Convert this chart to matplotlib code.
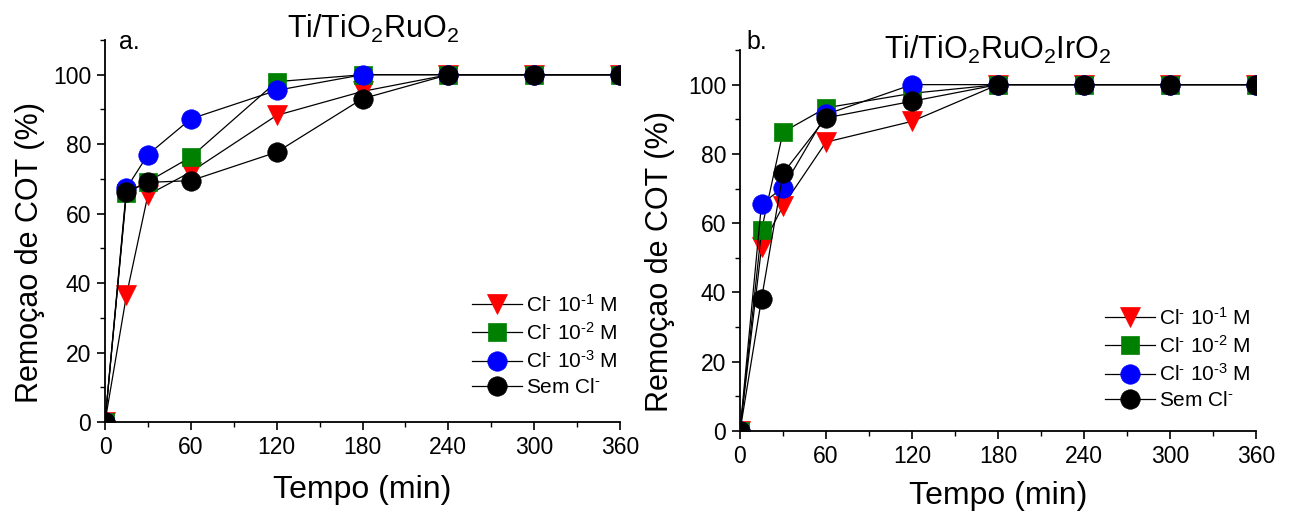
import matplotlib
matplotlib.use("Agg")
import matplotlib.pyplot as plt
from matplotlib.ticker import MultipleLocator

plt.rcParams['font.family'] = ['Liberation Sans', 'DejaVu Sans']
plt.rcParams['mathtext.default'] = 'regular'

# ---- data ----
tempo = [0, 15, 30, 60, 120, 180, 240, 300, 360]

labels = ['Cl$^{\u2010}$ 10$^{\u20101}$ M', 'Cl$^{\u2010}$ 10$^{\u20102}$ M',
          'Cl$^{\u2010}$ 10$^{\u20103}$ M', 'Sem Cl$^{\u2010}$']

# panel a: Ti/TiO2RuO2
a_cl1 = [0, 36.5, 65.4, 72.0, 88.3, 95.2, 100, 100, 100]
a_cl2 = [0, 66.0, 69.2, 76.3, 98.0, 100, 100, 100, 100]
a_cl3 = [0, 67.3, 77.0, 87.3, 95.5, 100, 100, 100, 100]
a_sem = [0, 66.3, 69.0, 69.5, 77.7, 93.1, 100, 100, 100]

# panel b: Ti/TiO2RuO2IrO2
b_cl1 = [0, 53.0, 65.0, 83.4, 89.4, 100, 100, 100, 100]
b_cl2 = [0, 58.0, 86.3, 93.3, 97.5, 100, 100, 100, 100]
b_cl3 = [0, 65.6, 70.2, 91.4, 100, 100, 100, 100, 100]
b_sem = [0, 38.1, 74.4, 90.4, 95.2, 100, 100, 100, 100]

titles = [r'Ti/TiO$_2$RuO$_2$', r'Ti/TiO$_2$RuO$_2$IrO$_2$']
panel_tags = ['a.', 'b.']

styles = [dict(marker='v', color='#ff0000', ms=14.5),
          dict(marker='s', color='#008000', ms=12.5),
          dict(marker='o', color='#0000ff', ms=14),
          dict(marker='o', color='#000000', ms=14)]

W, H = 1291, 514
fig = plt.figure(figsize=(W / 100, H / 100), dpi=100)

rects = [[105 / W, (H - 422) / H, 515 / W, 382 / H],
         [740 / W, (H - 431) / H, 516 / W, 381 / H]]
series = [[a_cl1, a_cl2, a_cl3, a_sem], [b_cl1, b_cl2, b_cl3, b_sem]]
title_pos = [(0.52, 1.03), (0.50, 1.0)]
tag_pos = [(0.028, 0.995), (0.012, 1.02)]
leg_anchor = [(0.995, 0.065), (0.99, 0.055)]
ylab_pos = [(-0.146, 0.445), (-0.155, 0.446)]
xlab_pos = [(0.5, -0.178), (0.5, -0.171)]

for i in range(2):
    ax = fig.add_axes(rects[i])
    for ys, st, lab in zip(series[i], styles, labels):
        ax.plot(tempo, ys, color='black', lw=0.9, marker=st['marker'],
                markersize=st['ms'], markerfacecolor=st['color'],
                markeredgecolor=st['color'], markeredgewidth=0.5,
                label=lab, zorder=3)
    ax.set_xlim(0, 360)
    ax.set_ylim(0, 110)
    ax.xaxis.set_major_locator(MultipleLocator(60))
    ax.xaxis.set_minor_locator(MultipleLocator(30))
    ax.yaxis.set_major_locator(MultipleLocator(20))
    ax.yaxis.set_minor_locator(MultipleLocator(10))
    ax.set_yticks([0, 20, 40, 60, 80, 100])
    for s in ['top', 'right']:
        ax.spines[s].set_visible(False)
    for s in ['left', 'bottom']:
        ax.spines[s].set_linewidth(1.3)
        ax.spines[s].set_zorder(5)
    ax.tick_params(which='major', direction='out', length=6, width=1.2,
                   labelsize=16.5, pad=4)
    ax.tick_params(which='minor', direction='out', length=3.5, width=1.0)
    xl = ax.set_xlabel('Tempo (min)', fontsize=23)
    ax.xaxis.set_label_coords(*xlab_pos[i])
    xl.set_va('center')
    yl = ax.set_ylabel('Remoçao de COT (%)', fontsize=22)
    ax.yaxis.set_label_coords(*ylab_pos[i])
    yl.set_va('center')
    ax.text(*title_pos[i], titles[i], transform=ax.transAxes, fontsize=22,
            ha='center', va='center')
    ax.text(*tag_pos[i], panel_tags[i], transform=ax.transAxes, fontsize=18,
            ha='left', va='center')
    leg = ax.legend(loc='lower right', bbox_to_anchor=leg_anchor[i],
                    frameon=False, fontsize=15, handlelength=2.4,
                    handletextpad=0.2, labelspacing=0.3, borderaxespad=0.0,
                    borderpad=0.0, markerscale=1.0)

fig.savefig('out.png', dpi=100)
